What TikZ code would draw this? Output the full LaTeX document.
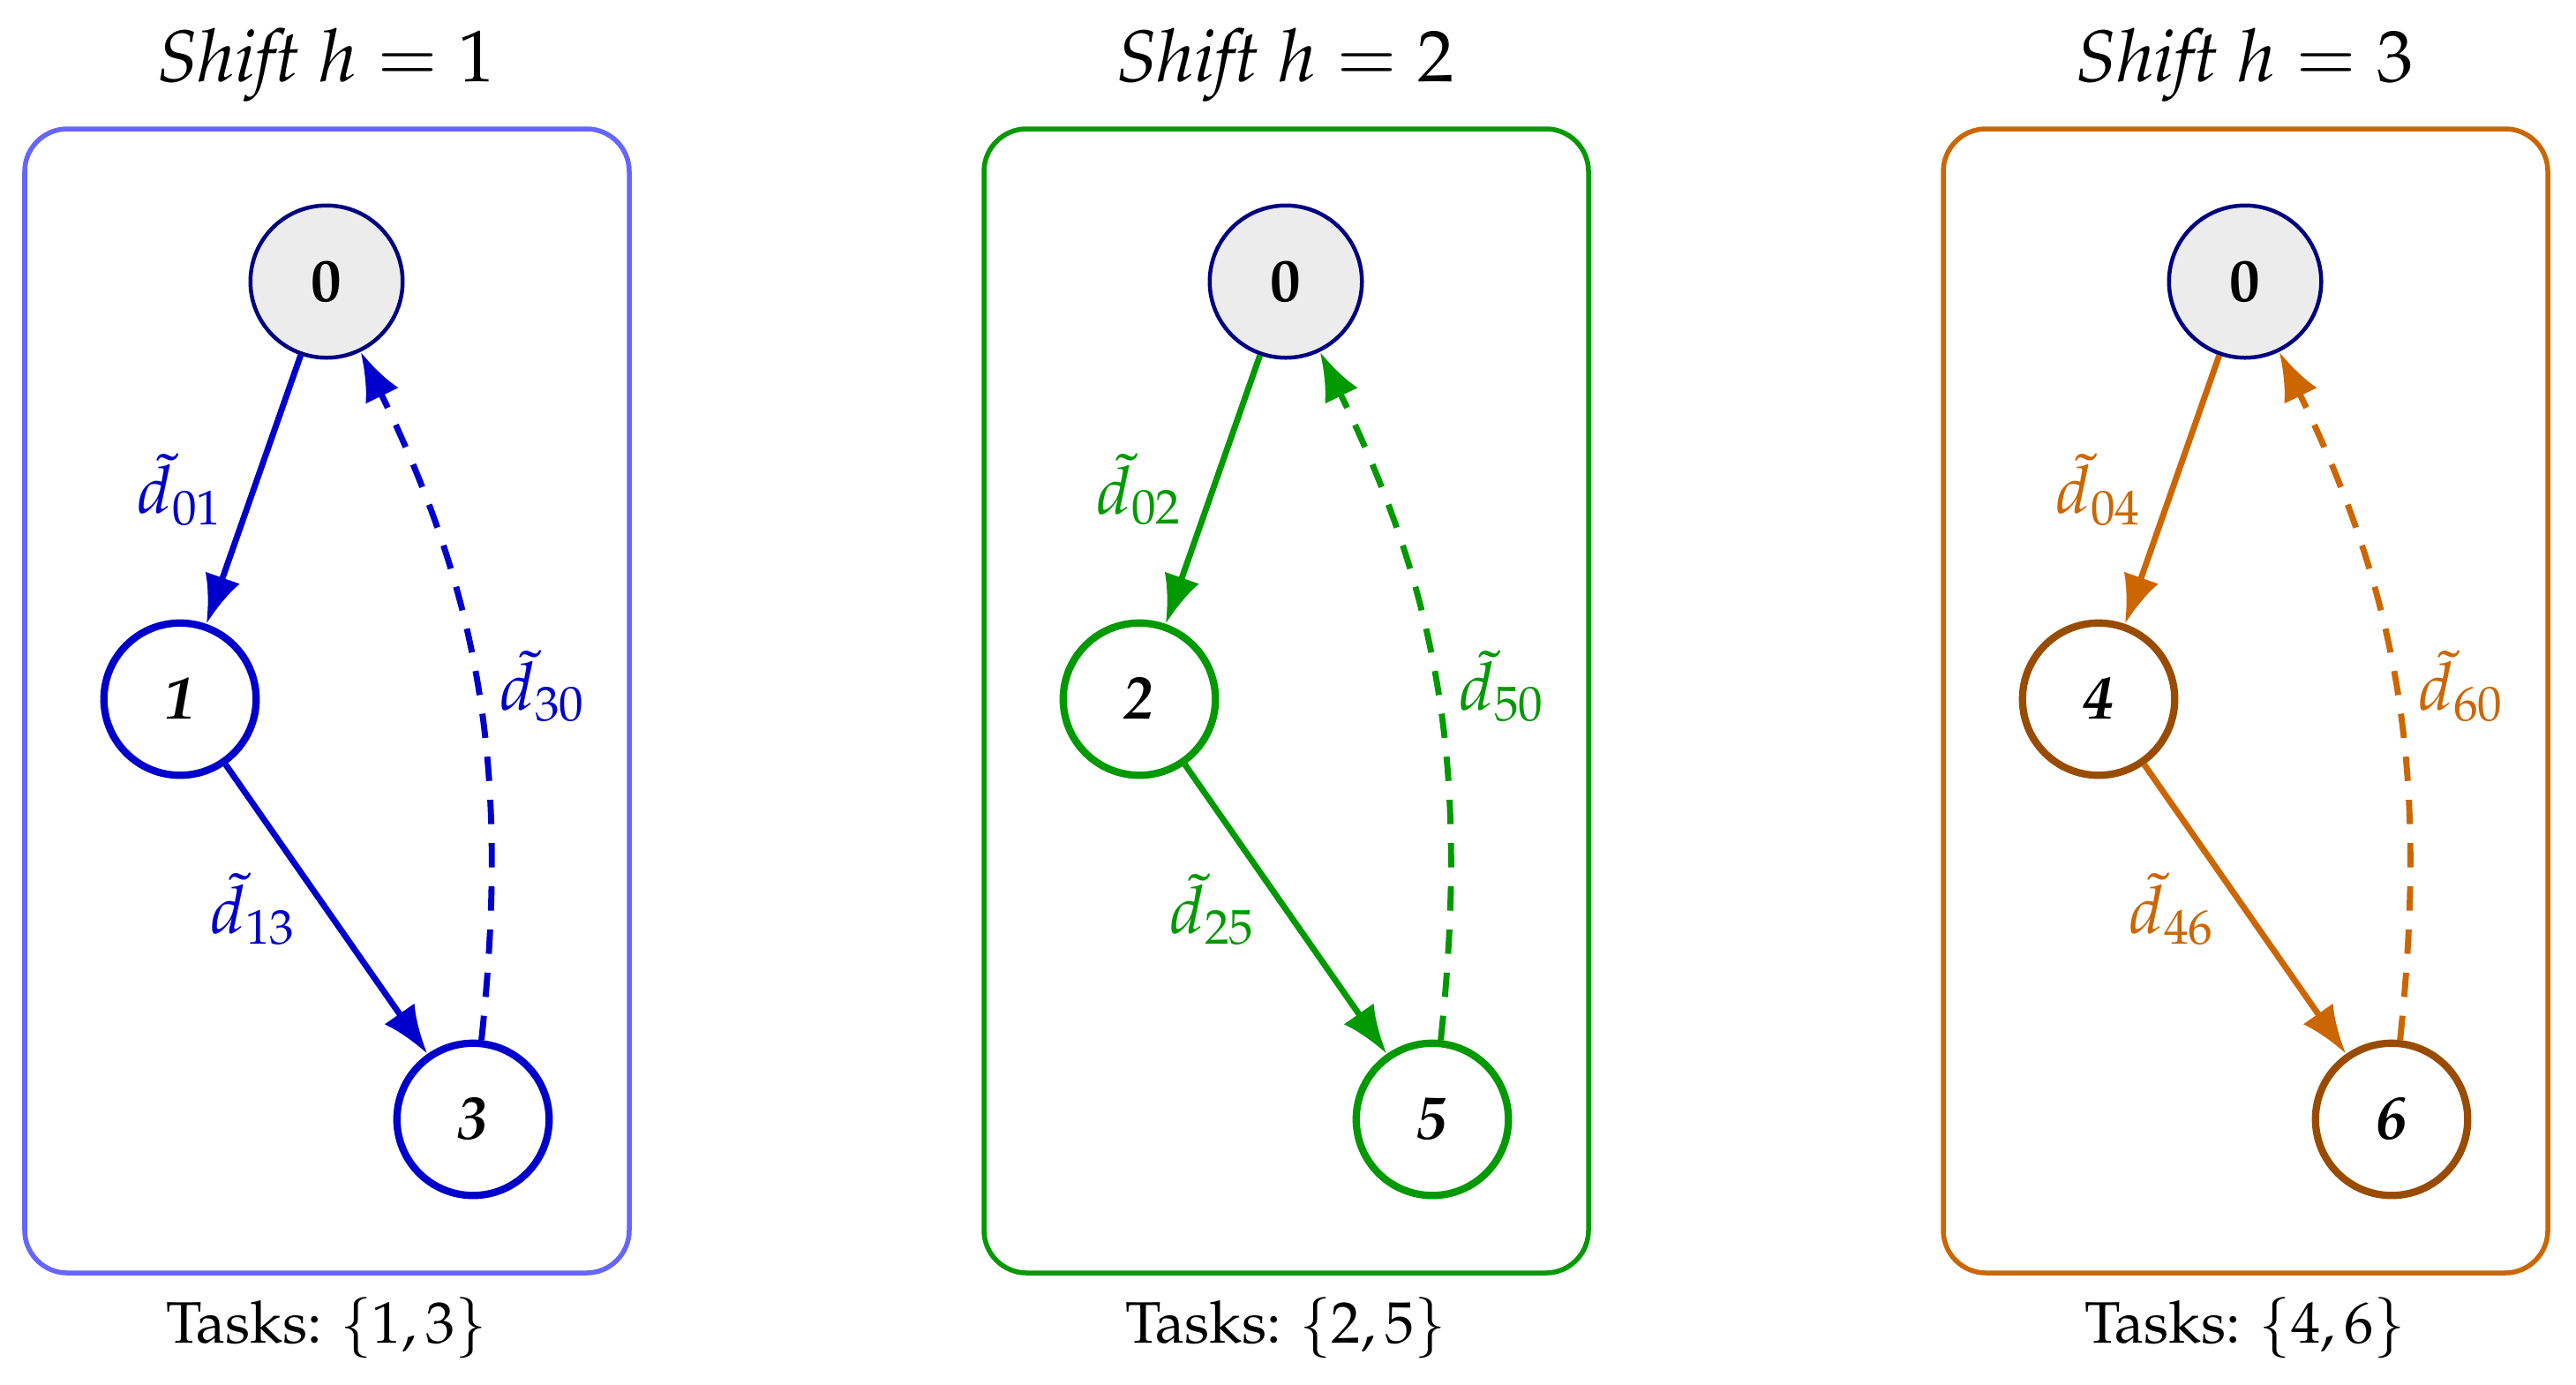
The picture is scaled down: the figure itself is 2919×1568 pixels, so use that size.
\documentclass[tikz,border=0pt]{standalone}
\usepackage[T1]{fontenc}
\usepackage{mathpazo}
\usetikzlibrary{arrows.meta}
\definecolor{bluebox}{HTML}{6666FF}
\definecolor{bluedark}{HTML}{0000CC}
\definecolor{navyzero}{HTML}{000080}
\definecolor{greenc}{HTML}{009900}
\definecolor{orangec}{HTML}{CC6600}
\definecolor{brownc}{HTML}{994C00}
\definecolor{fillzero}{HTML}{ECECEC}
\begin{document}
\begin{tikzpicture}[x=0.144928pt,y=-0.144928pt,
  depot/.style={circle,draw=navyzero,fill=fillzero,line width=0.65pt,minimum size=25pt,inner sep=0pt,font=\bfseries},
  task/.style={circle,draw=#1,fill=white,line width=1.2pt,minimum size=25pt,inner sep=0pt,font=\bfseries\itshape},
  panelbox/.style={draw=#1,line width=0.8pt,rounded corners=7pt},
  arr/.style={draw=#1,line width=1pt,-{Latex[length=8pt,width=6pt]}},
  ret/.style={arr=#1,dash pattern=on 4pt off 3.1pt},
  lbl/.style={text=#1,font=\fontsize{10.95}{13.6}\selectfont},
  title/.style={font=\large,anchor=base},
  tasks/.style={anchor=base,font=\fontsize{9.6}{11.5}\selectfont},
]
\useasboundingbox (0,0) rectangle (2919,1568);

% Panel 1
\draw[panelbox=bluebox] (28,146) rectangle (713,1442);
\node[title] (t1) at (370,92) {\textit{Shift} $h=1$};
\node[depot] (a0) at (370,319) {0};
\node[task=bluedark] (a1) at (204,792) {1};
\node[task=bluedark] (a3) at (536,1268) {3};
\draw[arr=bluedark] (a0) -- node[lbl=bluedark,left=1pt] {$\tilde{d}_{01}$} (a1);
\draw[arr=bluedark] (a1) -- node[lbl=bluedark,left=1pt] {$\tilde{d}_{13}$} (a3);
\draw[ret=bluedark] (a3) to[bend right=16] node[lbl=bluedark,right] {$\tilde{d}_{30}$} (a0);
\node[tasks] (k1) at (370,1521) {Tasks: $\{1,3\}$};

% Panel 2
\begin{scope}[shift={(1087,0)}]
\draw[panelbox=greenc] (28,146) rectangle (713,1442);
\node[title] (t2) at (370,92) {\textit{Shift} $h=2$};
\node[depot] (b0) at (370,319) {0};
\node[task=greenc] (b2) at (204,792) {2};
\node[task=greenc] (b5) at (536,1268) {5};
\draw[arr=greenc] (b0) -- node[lbl=greenc,left=1pt] {$\tilde{d}_{02}$} (b2);
\draw[arr=greenc] (b2) -- node[lbl=greenc,left=1pt] {$\tilde{d}_{25}$} (b5);
\draw[ret=greenc] (b5) to[bend right=16] node[lbl=greenc,right] {$\tilde{d}_{50}$} (b0);
\node[tasks] (k2) at (370,1521) {Tasks: $\{2,5\}$};
\end{scope}

% Panel 3
\begin{scope}[shift={(2174,0)}]
\draw[panelbox=orangec] (28,146) rectangle (713,1442);
\node[title] (t3) at (370,92) {\textit{Shift} $h=3$};
\node[depot] (c0) at (370,319) {0};
\node[task=brownc] (c4) at (204,792) {4};
\node[task=brownc] (c6) at (536,1268) {6};
\draw[arr=orangec] (c0) -- node[lbl=orangec,left=1pt] {$\tilde{d}_{04}$} (c4);
\draw[arr=orangec] (c4) -- node[lbl=orangec,left=1pt] {$\tilde{d}_{46}$} (c6);
\draw[ret=orangec] (c6) to[bend right=16] node[lbl=orangec,right] {$\tilde{d}_{60}$} (c0);
\node[tasks] (k3) at (370,1521) {Tasks: $\{4,6\}$};
\end{scope}
\end{tikzpicture}
\end{document}
